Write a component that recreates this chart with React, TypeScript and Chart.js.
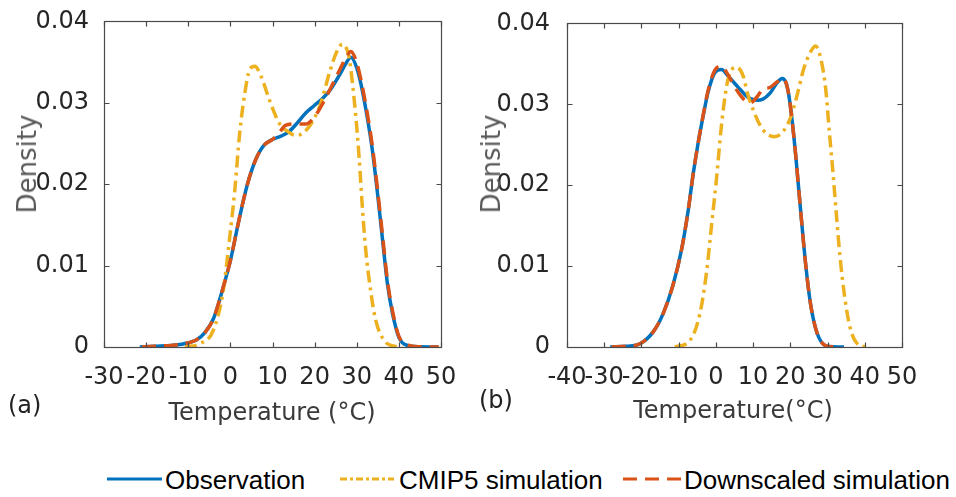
import React, { useEffect, useRef } from 'react';
import { Chart, registerables } from 'chart.js';

Chart.register(...registerables);

// ---------- data: panel (a) ----------
const aObsT = [-21.5, -18, -14, -11, -8, -6, -4, -2, 0, 2, 4, 6, 8, 10, 12, 14, 16, 18, 20, 22, 24, 26, 27.5, 28.6, 30, 31, 32.5, 33.7, 34.9, 36.1, 37.3, 38.5, 40, 42, 45, 49.3];
const aObsD = [0, 0.0001, 0.0002, 0.0004, 0.0009, 0.0018, 0.0035, 0.0068, 0.0106, 0.0155, 0.0199, 0.023, 0.0248, 0.0255, 0.0259, 0.0265, 0.0276, 0.0288, 0.0297, 0.0306, 0.0318, 0.0335, 0.0349, 0.0356, 0.0343, 0.0323, 0.0282, 0.0242, 0.019, 0.0133, 0.0077, 0.0041, 0.0012, 0.0002, 0.00003, 0];

const aCmT = [-10.8, -7.3, -4.1, -1.7, -0.2, 1, 2.2, 3.4, 4.6, 5.8, 7.4, 9.3, 11.7, 13.3, 15.5, 17, 19, 21.3, 23.7, 25.2, 26.6, 28.2, 29, 29.8, 30.6, 31.3, 32.1, 33.3, 34.5, 36.5, 38.9, 40.8];
const aCmD = [0, 0.0004, 0.002, 0.0069, 0.0133, 0.019, 0.0262, 0.0311, 0.0341, 0.0345, 0.0331, 0.0303, 0.0274, 0.0266, 0.026, 0.0262, 0.0273, 0.0297, 0.034, 0.0362, 0.0372, 0.0355, 0.0323, 0.0282, 0.023, 0.0174, 0.0121, 0.0069, 0.0033, 0.0008, 0.0001, 0];

const aDsT = [-21, -18, -14, -11, -8, -6, -4, -2, 0, 2, 4, 6, 8, 10, 12, 13, 15, 18, 20, 22, 24, 26, 27.5, 28.6, 30, 31, 32.5, 33.7, 34.9, 36.1, 37.3, 38.5, 40, 42, 45, 49.5];
const aDsD = [0, 0.0001, 0.0002, 0.0004, 0.0009, 0.0018, 0.0035, 0.0068, 0.0106, 0.0155, 0.0199, 0.023, 0.0248, 0.0255, 0.0266, 0.0272, 0.0274, 0.0274, 0.0283, 0.03, 0.032, 0.0341, 0.0356, 0.0363, 0.0349, 0.0328, 0.0287, 0.0247, 0.0195, 0.0138, 0.0081, 0.0044, 0.0013, 0.0003, 0.00003, 0];

// ---------- data: panel (b) ----------
const bObsT = [-28.4, -24, -20.4, -16.8, -14.2, -11.5, -9.2, -7.4, -6.1, -4.7, -3.4, -2.1, -0.3, 1.5, 3.3, 5, 6.6, 8, 9.3, 11, 12.5, 14.6, 16.5, 17.8, 18.8, 19.6, 20.5, 21.4, 22.7, 24.1, 25.4, 27.2, 29.9, 34.4];
const bObsD = [0, 0.0001, 0.0004, 0.0019, 0.0041, 0.0077, 0.0121, 0.017, 0.0214, 0.0254, 0.0286, 0.0315, 0.0339, 0.0343, 0.0335, 0.0326, 0.0318, 0.0311, 0.0307, 0.0305, 0.0306, 0.0314, 0.0327, 0.0332, 0.0327, 0.0311, 0.0279, 0.0239, 0.0172, 0.0103, 0.0054, 0.0017, 0.0001, 0];

const bCmT = [-11, -7, -4.3, -2.5, -1.2, 0.2, 1.5, 2.9, 3.8, 5.6, 7.4, 8.4, 10.2, 12, 13.8, 15.7, 17.8, 20, 21.8, 23.6, 25.6, 26.8, 28.2, 29.5, 30.5, 31.5, 32.4, 33.3, 34.6, 36, 37.8, 40.6];
const bCmD = [0, 0.0008, 0.0041, 0.0093, 0.0149, 0.021, 0.0274, 0.0323, 0.0339, 0.0346, 0.0334, 0.0315, 0.0291, 0.0273, 0.0263, 0.026, 0.0265, 0.0283, 0.0311, 0.0344, 0.0366, 0.0372, 0.0356, 0.0319, 0.0265, 0.0213, 0.0162, 0.0114, 0.0062, 0.0025, 0.0005, 0];

const bDsT = [-28, -24, -20.4, -16.8, -14.2, -11.5, -9.2, -7.4, -6.1, -4.7, -3.4, -2.1, -0.3, 1.5, 3.3, 5, 6.6, 8, 9.3, 11, 12.5, 14.6, 16.5, 17.8, 18.8, 19.6, 20.5, 21.4, 22.7, 24.1, 25.4, 27.2, 29.9, 33.5];
const bDsD = [0, 0.0001, 0.0004, 0.0019, 0.0041, 0.0077, 0.0121, 0.017, 0.0214, 0.0254, 0.0287, 0.0317, 0.0342, 0.0347, 0.0336, 0.0322, 0.0311, 0.0304, 0.0302, 0.0309, 0.0318, 0.0321, 0.0328, 0.0332, 0.0327, 0.0311, 0.0279, 0.0239, 0.0172, 0.0103, 0.0054, 0.0017, 0.0001, 0];

// ---------- ticks / labels ----------
const yTickValues = [0, 0.01, 0.02, 0.03, 0.04];
const aXTickValues = [-30, -20, -10, 0, 10, 20, 30, 40, 50];
const bXTickValues = [-40, -30, -20, -10, 0, 10, 20, 30, 40, 50];
const seriesNames = ['Observation', 'CMIP5 simulation', 'Downscaled simulation'];

const BLUE = '#0072BD';
const RED = '#D95319';
const YELLOW = '#EDB120';
const AXIS = '#4a4a4a';
const TICKTXT = '#262626';
const FONT = "'DejaVu Sans', sans-serif";

const pts = (ts: number[], ds: number[]) => ts.map((t, i) => ({ x: t, y: ds[i] }));

const boxPlugin = {
  id: 'matlabBox',
  afterDatasetsDraw(chart: any) {
    const { ctx, chartArea } = chart;
    const { left, right, top, bottom } = chartArea;
    const xs = chart.scales.x;
    const ys = chart.scales.y;
    ctx.save();
    ctx.strokeStyle = AXIS;
    ctx.lineWidth = 1.2;
    const L = Math.round(left) + 0.5, R = Math.round(right) + 0.5, T = Math.round(top) + 0.5, B = Math.round(bottom) + 0.5;
    ctx.strokeRect(L, T, R - L, B - T);
    ctx.beginPath();
    const tl = 5;
    xs.ticks.forEach((t: any) => {
      const p = Math.round(xs.getPixelForValue(t.value)) + 0.5;
      ctx.moveTo(p, B); ctx.lineTo(p, B - tl);
      ctx.moveTo(p, T); ctx.lineTo(p, T + tl);
    });
    ys.ticks.forEach((t: any) => {
      const p = Math.round(ys.getPixelForValue(t.value)) + 0.5;
      ctx.moveTo(L, p); ctx.lineTo(L + tl, p);
      ctx.moveTo(R, p); ctx.lineTo(R - tl, p);
    });
    ctx.stroke();
    ctx.restore();
  },
};

type PanelProps = {
  left: number;
  width: number;
  height: number;
  yAxisWidth: number;
  padRight: number;
  padTop: number;
  xAxisHeight: number;
  xMin: number;
  xMax: number;
  xTicks: number[];
  yPad: number;
  obs: { x: number; y: number }[];
  cmip: { x: number; y: number }[];
  down: { x: number; y: number }[];
};

function Panel(p: PanelProps) {
  const ref = useRef<HTMLCanvasElement | null>(null);
  useEffect(() => {
    if (!ref.current) return;
    const chart = new Chart(ref.current, {
      type: 'line',
      data: {
        datasets: [
          {
            label: seriesNames[0], data: p.obs, borderColor: BLUE, borderWidth: 3.5,
            pointRadius: 0, cubicInterpolationMode: 'monotone', fill: false, order: 3,
          },
          {
            label: seriesNames[1], data: p.cmip, borderColor: YELLOW, borderWidth: 3.5,
            borderDash: [12, 5, 3, 5], pointRadius: 0, cubicInterpolationMode: 'monotone', fill: false, order: 2,
          },
          {
            label: seriesNames[2], data: p.down, borderColor: RED, borderWidth: 3.5,
            borderDash: [14, 8], pointRadius: 0, cubicInterpolationMode: 'monotone', fill: false, order: 1,
          },
        ],
      } as any,
      options: {
        animation: false,
        responsive: false,
        devicePixelRatio: 1,
        events: [],
        layout: { padding: { left: 0, right: p.padRight, top: p.padTop, bottom: 0 } },
        plugins: { legend: { display: false }, tooltip: { enabled: false }, title: { display: false } },
        scales: {
          x: {
            type: 'linear',
            min: p.xMin,
            max: p.xMax,
            afterBuildTicks: (s: any) => { s.ticks = p.xTicks.map((v) => ({ value: v })); },
            afterFit: (s: any) => { s.height = p.xAxisHeight; },
            ticks: {
              autoSkip: false, maxRotation: 0, minRotation: 0, padding: 8, color: TICKTXT,
              font: { family: FONT, size: 24 },
              callback: (v: any) => String(v),
            },
            grid: { display: false },
            border: { display: false },
          },
          y: {
            type: 'linear',
            min: 0,
            max: 0.04,
            afterBuildTicks: (s: any) => { s.ticks = yTickValues.map((v) => ({ value: v })); },
            afterFit: (s: any) => { s.width = p.yAxisWidth; },
            ticks: {
              padding: p.yPad, color: TICKTXT,
              font: { family: FONT, size: 24 },
              callback: (v: any) => (Number(v) === 0 ? '0' : Number(v).toFixed(2)),
            },
            grid: { display: false },
            border: { display: false },
          },
        },
      } as any,
      plugins: [boxPlugin],
    });
    return () => chart.destroy();
  }, []);
  return (
    <div style={{ position: 'absolute', left: p.left, top: 0, width: p.width, height: p.height }}>
      <canvas ref={ref} width={p.width} height={p.height} style={{ width: p.width, height: p.height, display: 'block' }} />
    </div>
  );
}

const txt = (left: number, top: number, text: string, style: any = {}) => (
  <div style={{ position: 'absolute', left, top, whiteSpace: 'nowrap', lineHeight: '30px', ...style }}>{text}</div>
);

export default function App() {
  const titleStyle = { fontFamily: FONT, fontSize: 24, color: '#3a3a3a' };
  const legendStyle = { fontFamily: "'Liberation Sans', Arial, sans-serif", fontSize: 26, color: '#000' };
  return (
    <div style={{ position: 'absolute', left: 0, top: 0, width: 956, height: 497, background: '#fff', overflow: 'hidden' }}>
      <Panel left={0} width={478} height={440} yAxisWidth={104} padRight={37} padTop={16} xAxisHeight={93}
        xMin={-30} xMax={50} xTicks={aXTickValues} yPad={7}
        obs={pts(aObsT, aObsD)} cmip={pts(aCmT, aCmD)} down={pts(aDsT, aDsD)} />
      <Panel left={478} width={478} height={440} yAxisWidth={89} padRight={54} padTop={16} xAxisHeight={93}
        xMin={-40} xMax={50} xTicks={bXTickValues} yPad={9}
        obs={pts(bObsT, bObsD)} cmip={pts(bCmT, bCmD)} down={pts(bDsT, bDsD)} />

      {/* y titles */}
      <div style={{ position: 'absolute', left: 27, top: 164, transform: 'translate(-50%, -50%) rotate(-90deg)', whiteSpace: 'nowrap', fontFamily: FONT, fontSize: 26, color: '#595959', lineHeight: '30px' }}>Density</div>
      <div style={{ position: 'absolute', left: 491, top: 164, transform: 'translate(-50%, -50%) rotate(-90deg)', whiteSpace: 'nowrap', fontFamily: FONT, fontSize: 26, color: '#595959', lineHeight: '30px' }}>Density</div>

      {/* x titles */}
      <div style={{ position: 'absolute', left: 272, top: 412, transform: 'translate(-50%, -50%)', whiteSpace: 'nowrap', lineHeight: '30px', ...titleStyle }}>Temperature (°C)</div>
      <div style={{ position: 'absolute', left: 733, top: 410, transform: 'translate(-50%, -50%)', whiteSpace: 'nowrap', lineHeight: '30px', ...titleStyle }}>Temperature(°C)</div>

      {/* panel labels */}
      {txt(8, 390, '(a)', { fontFamily: FONT, fontSize: 24, color: '#222' })}
      {txt(479, 385, '(b)', { fontFamily: FONT, fontSize: 24, color: '#222' })}

      {/* legend */}
      <svg width={956} height={30} style={{ position: 'absolute', left: 0, top: 464 }}>
        <line x1={107} y1={15} x2={162} y2={15} stroke={BLUE} strokeWidth={3} />
        <line x1={340} y1={15} x2={394} y2={15} stroke={YELLOW} strokeWidth={3} strokeDasharray="7 3 3 3" />
        <line x1={623} y1={15} x2={681} y2={15} stroke={RED} strokeWidth={3} strokeDasharray="14 8" />
      </svg>
      {txt(165, 465, seriesNames[0], legendStyle)}
      {txt(399, 465, seriesNames[1], legendStyle)}
      {txt(684, 465, seriesNames[2], legendStyle)}
    </div>
  );
}
